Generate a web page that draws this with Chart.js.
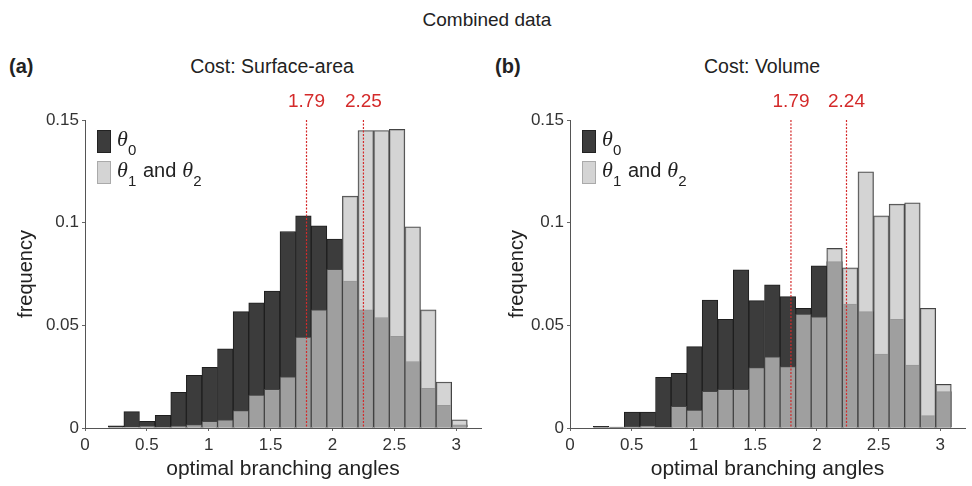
<html><head>
  <title>Combined data</title>
  <script src="https://cdn.jsdelivr.net/npm/chart.js"></script>
  <style>
    body {
      margin: 0;
      width: 972px;
      height: 486px;
      background: #fff;
      position: relative;
      overflow: hidden;
      font-family: Helvetica, Arial, 'Liberation Sans', sans-serif;
      color: #222;
    }
    .txt { position: absolute; white-space: nowrap; }
    .panel { position: absolute; top: 0; width: 486px; height: 486px; }
  </style>
</head>
<body>
  <div class="txt" style="left:0;width:974px;text-align:center;top:9px;font-size:19px;">Combined data</div>
  <div class="txt" style="left:9px;top:55px;font-size:20px;font-weight:bold;">(a)</div>
  <div class="txt" style="left:122px;width:300px;text-align:center;top:55px;font-size:19.5px;">Cost: Surface-area</div>
  <div class="txt" style="left:495px;top:55px;font-size:20px;font-weight:bold;">(b)</div>
  <div class="txt" style="left:612px;width:300px;text-align:center;top:55px;font-size:19.5px;">Cost: Volume</div>

  <div class="panel" style="left:0"><canvas id="chartA"></canvas></div>
  <div class="panel" style="left:486px"><canvas id="chartB"></canvas></div>

  <script>
    // bin centres of the histograms (optimal branching angle)
    const binCenters = [0.251, 0.377, 0.503, 0.630, 0.756, 0.882, 1.008, 1.134, 1.260, 1.386, 1.512, 1.639,
                        1.765, 1.891, 2.017, 2.143, 2.269, 2.396, 2.522, 2.648, 2.774, 2.900, 3.026];

    // (a) cost: surface-area
    const theta0A  = [0.001, 0.008, 0.0033, 0.0062, 0.0174, 0.0256, 0.0295, 0.0386, 0.0567, 0.061, 0.0667, 0.0957,
                      0.1033, 0.0984, 0.092, 0.0716, 0.0575, 0.0538, 0.0446, 0.0324, 0.0193, 0.011, 0.0015];
    const theta12A = [0, 0, 0.001, 0.0005, 0.001, 0.0017, 0.0033, 0.004, 0.0085, 0.016, 0.0188, 0.0249,
                      0.0443, 0.0575, 0.0773, 0.1129, 0.1449, 0.1449, 0.1454, 0.098, 0.0575, 0.0224, 0.004];
    const mediansA = [1.79, 2.25];

    // (b) cost: volume
    const theta0B  = [0.0008, 0.0005, 0.0078, 0.0078, 0.0247, 0.0266, 0.0396, 0.0623, 0.0529, 0.077, 0.062, 0.0697,
                      0.064, 0.0583, 0.079, 0.081, 0.0604, 0.0567, 0.036, 0.0529, 0.0307, 0.006, 0.0177];
    const theta12B = [0, 0, 0.0006, 0.0011, 0.0002, 0.0105, 0.0087, 0.0178, 0.0188, 0.0188, 0.0294, 0.0347,
                      0.0299, 0.0555, 0.0542, 0.0875, 0.078, 0.1248, 0.1033, 0.109, 0.1097, 0.0583, 0.0213];
    const mediansB = [1.79, 2.24];

    const xTicks = [0, 0.5, 1, 1.5, 2, 2.5, 3];
    const yTicks = [0, 0.05, 0.1, 0.15];

    const darkFill = 'rgb(60,60,60)';
    const lightFill = 'rgba(196,196,196,0.73)';
    const font = "Helvetica, Arial, 'Liberation Sans', sans-serif";

    // dotted red lines with their values on top
    const medianLines = {
      id: 'medianLines',
      afterDatasetsDraw(chart, args, opts) {
        const ctx = chart.ctx, x = chart.scales.x, y = chart.scales.y;
        ctx.save();
        opts.values.forEach(v => {
          const px = x.getPixelForValue(v);
          ctx.strokeStyle = '#d42a2a';
          ctx.lineWidth = 1.2;
          ctx.setLineDash([2, 1.5]);
          ctx.beginPath();
          ctx.moveTo(px, y.getPixelForValue(0.15));
          ctx.lineTo(px, y.getPixelForValue(0));
          ctx.stroke();
          ctx.setLineDash([]);
          ctx.fillStyle = '#d42a2a';
          ctx.font = '19px ' + font;
          ctx.textAlign = 'center';
          ctx.textBaseline = 'middle';
          ctx.fillText(v.toFixed(2), px, 102);
        });
        ctx.restore();
      }
    };

    // legend inside the axes, with subscripted theta
    const innerLegend = {
      id: 'innerLegend',
      afterDraw(chart) {
        const ctx = chart.ctx, a = chart.chartArea;
        const bx = a.left + 12, top = a.top + 10;
        ctx.save();
        ctx.fillStyle = darkFill;
        ctx.strokeStyle = '#222';
        ctx.lineWidth = 1;
        ctx.fillRect(bx, top, 14, 23);
        ctx.strokeRect(bx + 0.5, top + 0.5, 13, 22);
        ctx.fillStyle = '#d4d4d4';
        ctx.strokeStyle = '#aaa';
        ctx.fillRect(bx, top + 31, 14, 23);
        ctx.strokeRect(bx + 0.5, top + 31.5, 13, 22);

        ctx.fillStyle = '#222';
        ctx.textBaseline = 'alphabetic';
        ctx.textAlign = 'left';
        const greek = "italic 22px 'Liberation Serif', 'DejaVu Serif', serif";
        const sub = '15px ' + font;
        const body = '20px ' + font;
        let tx = bx + 20;
        // first entry
        ctx.font = greek; ctx.fillText('θ', tx, top + 16);
        ctx.font = sub; ctx.fillText('0', tx + 11, top + 25);
        // second entry
        const y2 = top + 47;
        ctx.font = greek; ctx.fillText('θ', tx, y2);
        ctx.font = sub; ctx.fillText('1', tx + 11, y2 + 9);
        ctx.font = body; ctx.fillText('and', tx + 26, y2);
        const w = ctx.measureText('and').width;
        ctx.font = greek; ctx.fillText('θ', tx + 32 + w, y2);
        ctx.font = sub; ctx.fillText('2', tx + 43 + w, y2 + 9);
        ctx.restore();
      }
    };

    function makeChart(id, dark, light, medians, axisWidth, padRight, yTitlePad) {
      const darkData = binCenters.map((c, i) => ({ x: c, y: dark[i] }));
      const lightData = binCenters.map((c, i) => ({ x: c, y: light[i] }));
      return new Chart(document.getElementById(id), {
        type: 'bar',
        data: {
          datasets: [
            {
              label: 'θ0',
              data: darkData,
              backgroundColor: darkFill,
              borderColor: '#1e1e1e',
              borderWidth: 1,
              order: 2
            },
            {
              label: 'θ1 and θ2',
              data: lightData,
              backgroundColor: lightFill,
              borderColor: '#444',
              borderWidth: 1,
              order: 1
            }
          ]
        },
        options: {
          responsive: false,
          animation: false,
          devicePixelRatio: 1,
          layout: { padding: { left: 0, top: 120, right: padRight, bottom: 0 } },
          datasets: { bar: { grouped: false, barPercentage: 1, categoryPercentage: 1 } },
          plugins: {
            legend: { display: false },
            tooltip: { enabled: false },
            medianLines: { values: medians }
          },
          scales: {
            x: {
              type: 'linear',
              offset: false,
              min: 0,
              max: 3.2,
              afterFit: s => { s.height = 58; },
              afterBuildTicks: s => { s.ticks = xTicks.map(v => ({ value: v })); },
              ticks: {
                font: { size: 17, family: font },
                color: '#333',
                padding: 4,
                maxRotation: 0,
                callback: v => String(v)
              },
              grid: { offset: false, drawOnChartArea: false, drawTicks: true, tickLength: 3, color: '#666' },
              border: { display: true, color: '#555', width: 1 },
              title: {
                display: true,
                text: 'optimal branching angles',
                font: { size: 21, family: font },
                color: '#222',
                padding: { top: 0, bottom: 4 }
              }
            },
            y: {
              min: 0,
              max: 0.15,
              afterFit: s => { s.width = axisWidth; },
              afterBuildTicks: s => { s.ticks = yTicks.map(v => ({ value: v })); },
              ticks: {
                font: { size: 17, family: font },
                color: '#333',
                padding: 3,
                callback: v => String(Number(v.toFixed(2)))
              },
              grid: { drawOnChartArea: false, drawTicks: true, tickLength: 3, color: '#666' },
              border: { display: true, color: '#555', width: 1 },
              title: {
                display: true,
                text: 'frequency',
                font: { size: 20, family: font },
                color: '#222',
                padding: { top: yTitlePad, bottom: 0 }
              }
            }
          }
        },
        plugins: [medianLines, innerLegend]
      });
    }

    for (const c of document.querySelectorAll('canvas')) { c.width = 486; c.height = 486; }
    makeChart('chartA', theta0A, theta12A, mediansA, 85, 5, 14);
    makeChart('chartB', theta0B, theta12B, mediansB, 84, 7, 19);
  </script>
</body></html>
